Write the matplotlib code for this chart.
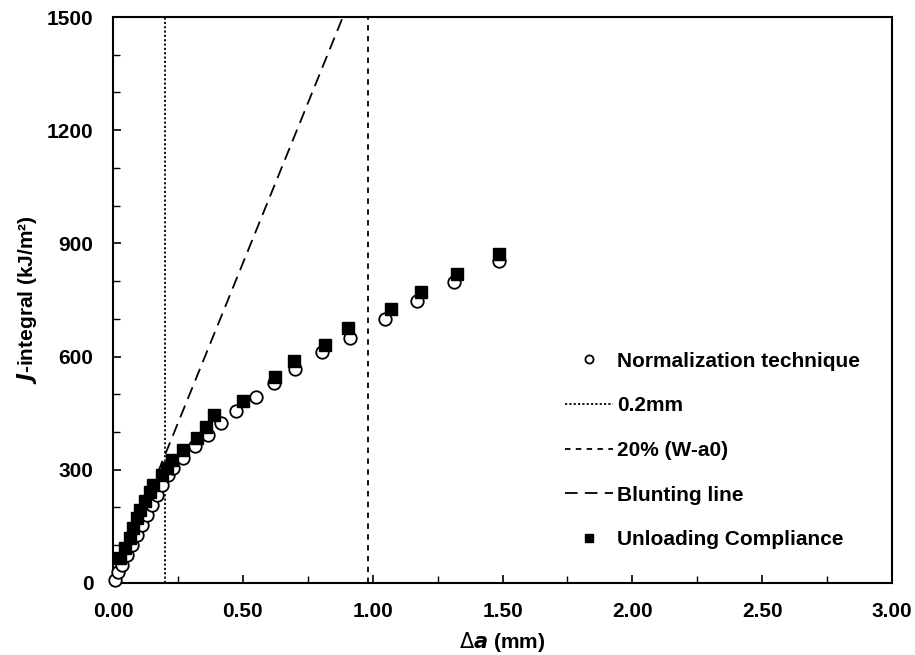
import matplotlib.pyplot as plt
import numpy as np
from matplotlib.ticker import MultipleLocator

plt.rcParams['font.family'] = ['Liberation Sans', 'DejaVu Sans']

# Normalization technique (open circles)
da_norm = [0.008, 0.020, 0.033, 0.053, 0.072, 0.091, 0.110, 0.130, 0.149, 0.168,
           0.187, 0.213, 0.232, 0.270, 0.315, 0.364, 0.415, 0.473, 0.550, 0.620,
           0.700, 0.803, 0.914, 1.049, 1.170, 1.312, 1.486]
j_norm = [9, 29, 48, 75, 101, 128, 154, 180, 207, 233,
          260, 286, 304, 330, 364, 392, 424, 455, 493, 530,
          568, 612, 649, 700, 748, 799, 854]

# Unloading compliance (filled squares)
da_uc = [0.027, 0.046, 0.065, 0.078, 0.091, 0.104, 0.123, 0.142, 0.155, 0.187,
         0.206, 0.226, 0.270, 0.322, 0.360, 0.390, 0.501, 0.622, 0.697, 0.818,
         0.905, 1.069, 1.185, 1.326, 1.488]
j_uc = [66, 92, 119, 145, 172, 194, 216, 242, 260, 286,
        304, 326, 352, 383, 414, 444, 481, 547, 587, 631,
        675, 726, 770, 820, 871]

# reference lines
x_02 = 0.2
x_20pct = 0.98
blunt_x = [0.0, 0.885]
blunt_j = [0, 1500]

fs = 15

fig, ax = plt.subplots(figsize=(9.15, 6.55), dpi=100)
fig.subplots_adjust(left=0.1235, right=0.975, bottom=0.11, top=0.974)

ax.plot(da_norm, j_norm, 'o', mfc='white', mec='black', mew=1.3, ms=9,
        label='Normalization technique', zorder=3, clip_on=False)
ax.axvline(x_02, color='black', ls=(0, (1.2, 1.2)), lw=1.3, label='0.2mm')
ax.axvline(x_20pct, color='black', ls=(0, (3, 3)), lw=1.3, label='20% (W-a0)')
ax.plot(blunt_x, blunt_j, color='black', ls=(0, (7, 4)), lw=1.3, label='Blunting line')
ax.plot(da_uc, j_uc, 's', color='black', ms=9, label='Unloading Compliance', zorder=4,
        clip_on=False)

ax.set_xlim(0, 3.0)
ax.set_ylim(0, 1500)
ax.xaxis.set_major_locator(MultipleLocator(0.5))
ax.xaxis.set_minor_locator(MultipleLocator(0.25))
ax.yaxis.set_major_locator(MultipleLocator(300))
ax.yaxis.set_minor_locator(MultipleLocator(100))
ax.set_xticklabels([f'{v:.2f}' for v in ax.get_xticks()])
ax.tick_params(which='both', direction='in', top=False, right=False)
ax.tick_params(which='major', length=6, width=1.2, labelsize=fs, pad=14)
ax.tick_params(which='minor', length=5, width=1.0)
for lab in ax.get_xticklabels() + ax.get_yticklabels():
    lab.set_fontweight('bold')
for s in ax.spines.values():
    s.set_linewidth(1.5)

ax.set_xlabel(r'$\Delta\bfit{a}$ (mm)', fontsize=fs, fontweight='bold', labelpad=6)
ax.set_ylabel(r'$\bfit{J}$-integral (kJ/m²)', fontsize=fs, fontweight='bold', labelpad=6)

leg = ax.legend(loc='center left', bbox_to_anchor=(0.556, 0.234), frameon=False,
                prop={'weight': 'bold', 'size': fs}, labelspacing=1.23,
                handlelength=2.3, handletextpad=0.2, markerscale=0.65)

plt.savefig('out.png')
